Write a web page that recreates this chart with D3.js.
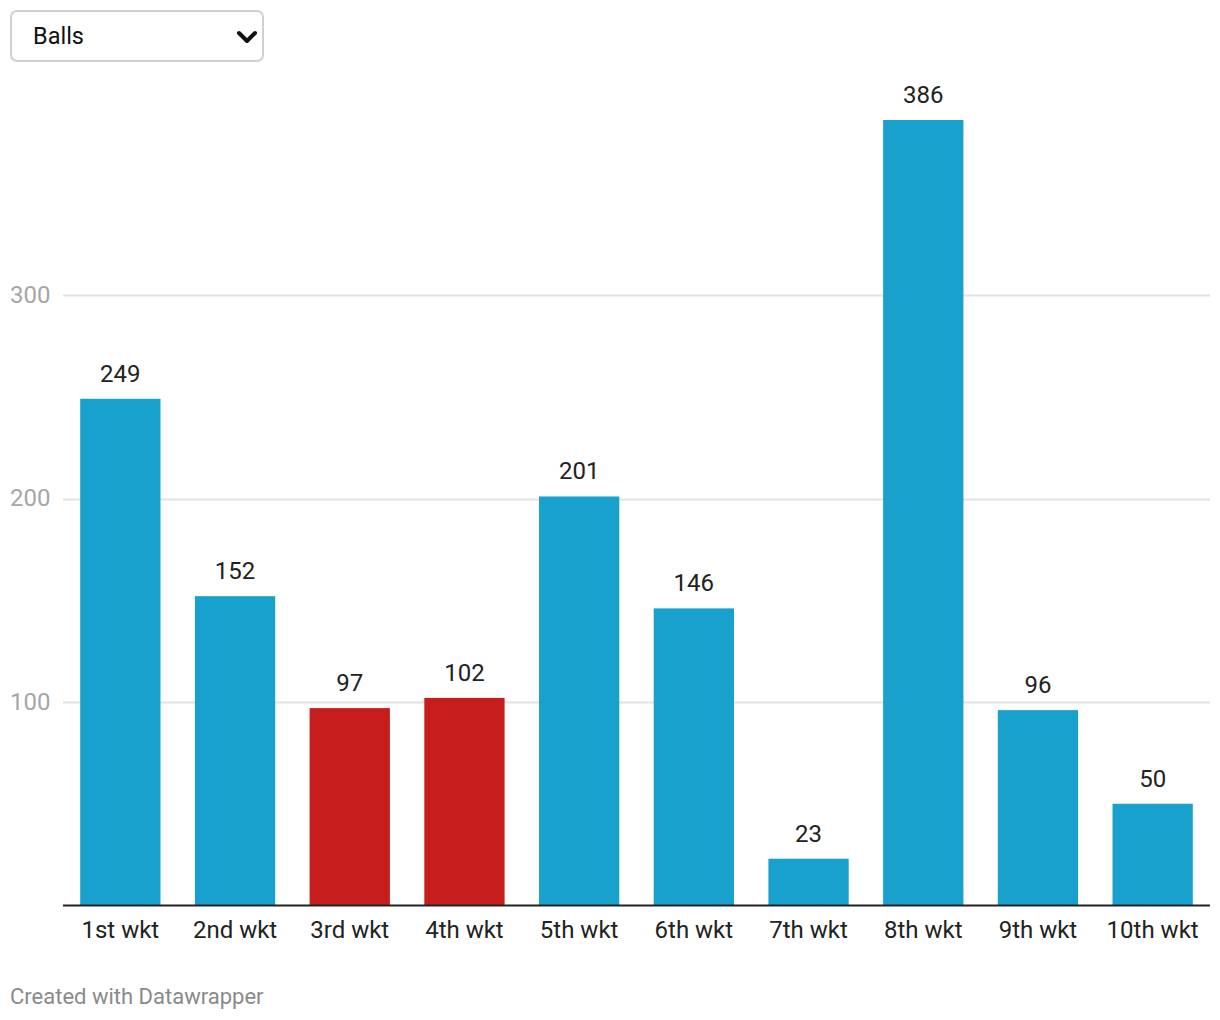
<!DOCTYPE html>
<html>
<head>
<meta charset="utf-8">
<script src="https://cdn.jsdelivr.net/npm/d3@7"></script>
<style>
  html, body { margin: 0; padding: 0; background: #fff; }
  body { width: 1220px; height: 1020px; position: relative; font-family: Roboto, "Noto Sans", sans-serif; overflow: hidden; }
  #dd { position: absolute; left: 10px; top: 10px; width: 250px; height: 48px; border: 2px solid #d0d0d0; border-radius: 7px; box-sizing: content-box; }
  #dd span { position: absolute; left: 21px; top: 10px; font-size: 23.5px; color: #111; }
  #dd svg { position: absolute; right: 4px; top: 17px; }
  #chart { position: absolute; left: 0; top: 0; }
</style>
</head>
<body>
<div id="dd"><span>Balls</span><svg width="22" height="16"><path d="M3,4 L11,12 L19,4" fill="none" stroke="#111" stroke-width="4" stroke-linecap="round" stroke-linejoin="round"/></svg></div>
<svg id="chart" width="1220" height="1020"></svg>
<script>
const categories = ["1st wkt","2nd wkt","3rd wkt","4th wkt","5th wkt","6th wkt","7th wkt","8th wkt","9th wkt","10th wkt"];
const balls = [249,152,97,102,201,146,23,386,96,50];
const highlighted = ["3rd wkt","4th wkt"];
const yTicks = [100,200,300];

const svg = d3.select("#chart");
const left = 63, right = 1210, y0 = 905.5;
const x = d3.scaleBand().domain(categories).range([left, right]).paddingInner(0.3).paddingOuter(0.15);
const y = d3.scaleLinear().domain([0, 100]).range([y0, y0 - 203.5]);

// gridlines
const grid = svg.append("g");
yTicks.forEach(t => {
  grid.append("line").attr("x1", left).attr("x2", right).attr("y1", Math.round(y(t)) + 0.5).attr("y2", Math.round(y(t)) + 0.5)
    .attr("stroke", "#e2e2e2").attr("stroke-width", 2);
  grid.append("text").attr("x", 10).attr("y", y(t) + 7.5).text(t)
    .attr("font-size", 24).attr("fill", "#a6a6a6");
});

// bars
svg.append("g").selectAll("rect").data(categories).join("rect")
  .attr("x", d => x(d)).attr("width", x.bandwidth())
  .attr("y", (d, i) => y(balls[i])).attr("height", (d, i) => y0 - y(balls[i]))
  .attr("fill", d => highlighted.includes(d) ? "#c71e1d" : "#18a1cd");

// value labels
svg.append("g").selectAll("text").data(categories).join("text")
  .attr("x", d => x(d) + x.bandwidth() / 2).attr("y", (d, i) => y(balls[i]) - 17)
  .attr("text-anchor", "middle").attr("font-size", 24).attr("fill", "#222")
  .text((d, i) => balls[i]);

// baseline
svg.append("line").attr("x1", left).attr("x2", right).attr("y1", y0).attr("y2", y0)
  .attr("stroke", "#222").attr("stroke-width", 2);

// x axis labels
svg.append("g").selectAll("text").data(categories).join("text")
  .attr("x", d => x(d) + x.bandwidth() / 2).attr("y", 937.5)
  .attr("text-anchor", "middle").attr("font-size", 24).attr("fill", "#222")
  .text(d => d);

// footer
svg.append("text").attr("x", 10).attr("y", 1004).attr("font-size", 22).attr("fill", "#8a8a8a")
  .text("Created with Datawrapper");
</script>
</body>
</html>
